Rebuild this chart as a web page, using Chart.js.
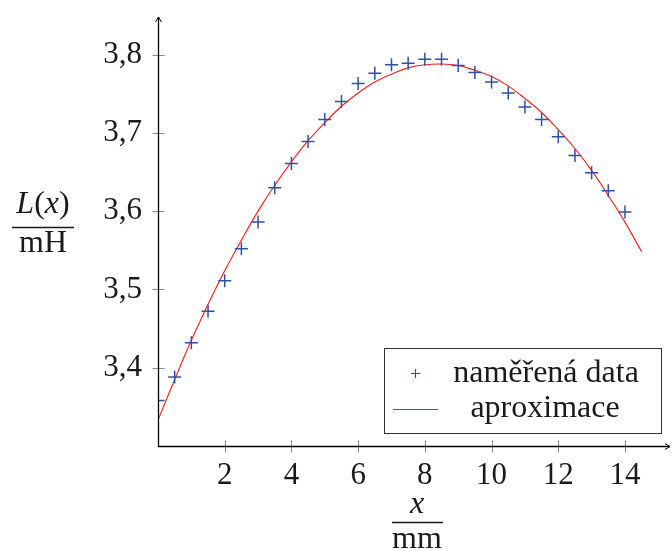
<!DOCTYPE html>
<html>
<head>
<meta charset="utf-8">
<script src="https://cdn.jsdelivr.net/npm/chart.js@4"></script>
<style>
  html, body { margin: 0; padding: 0; background: #fff; }
  #wrap { position: relative; width: 672px; height: 551px; }
</style>
</head>
<body>
<div id="wrap"><canvas id="chart" width="672" height="551"></canvas></div>
<script>
// naměřená data (x v mm, L v mH)
const xMeasured = [0, 0.5, 1, 1.5, 2, 2.5, 3, 3.5, 4, 4.5, 5, 5.5, 6, 6.5, 7, 7.5,
                   8, 8.5, 9, 9.5, 10, 10.5, 11, 11.5, 12, 12.5, 13, 13.5, 14];
const lMeasured = [3.358, 3.388, 3.432, 3.472, 3.511, 3.552, 3.586, 3.630, 3.661, 3.689,
                   3.717, 3.740, 3.763, 3.776, 3.787, 3.789, 3.794, 3.794, 3.786, 3.777,
                   3.765, 3.751, 3.733, 3.717, 3.695, 3.671, 3.649, 3.626, 3.599];

// aproximace
const xFit = [0, 0.5, 1, 1.5, 2, 2.5, 3, 3.5, 4, 4.5, 5, 5.5, 6, 6.5, 7, 7.5,
              8, 8.5, 9, 9.5, 10, 10.5, 11, 11.5, 12, 12.5, 13, 13.5, 14, 14.5];
const lFit = [3.333, 3.385, 3.435, 3.481, 3.524, 3.563, 3.600, 3.633, 3.663, 3.690,
              3.713, 3.734, 3.751, 3.765, 3.775, 3.783, 3.787, 3.788, 3.786, 3.780,
              3.772, 3.760, 3.744, 3.726, 3.704, 3.680, 3.652, 3.620, 3.586, 3.548];

// popisky os
const xTicks = [2, 4, 6, 8, 10, 12, 14];
const yTicks = [3.4, 3.5, 3.6, 3.7, 3.8];
const legendLabels = ['naměřená data', 'aproximace'];

const SERIF = '"Liberation Serif", "DejaVu Serif", serif';
const BLUE = '#2f4fa8';
const RED = '#ff1a1a';

// kreslí text složený z kurzívy a normálního písma, vycentrovaný
function drawRuns(ctx, runs, cx, baseline, size) {
    let total = 0;
    runs.forEach(r => {
        ctx.font = (r.it ? 'italic ' : '') + size + 'px ' + SERIF;
        r.w = ctx.measureText(r.t).width;
        total += r.w;
    });
    let xx = cx - total / 2;
    ctx.textAlign = 'left';
    ctx.textBaseline = 'alphabetic';
    runs.forEach(r => {
        ctx.font = (r.it ? 'italic ' : '') + size + 'px ' + SERIF;
        ctx.fillText(r.t, xx, baseline);
        xx += r.w;
    });
}

// osy ve stylu pgfplots + popisky + legenda
const pgfAxes = {
    id: 'pgfAxes',
    afterDraw(chart) {
        const { ctx, chartArea: a, scales: { x, y } } = chart;
        const ax = Math.round(a.left) + 0.5;
        const ay = Math.round(a.bottom) + 0.5;
        const xEnd = chart.width - 2;
        ctx.save();

        // značky na osách
        ctx.strokeStyle = '#8a8a8a';
        ctx.lineWidth = 1;
        xTicks.forEach(v => {
            const px = Math.round(x.getPixelForValue(v)) + 0.5;
            ctx.beginPath();
            ctx.moveTo(px, ay - 6);
            ctx.lineTo(px, ay + 6);
            ctx.stroke();
        });
        yTicks.forEach(v => {
            const py = Math.round(y.getPixelForValue(v)) + 0.5;
            ctx.beginPath();
            ctx.moveTo(ax - 6, py);
            ctx.lineTo(ax + 6, py);
            ctx.stroke();
        });

        // osy
        ctx.strokeStyle = '#000';
        ctx.lineWidth = 1.3;
        ctx.beginPath();
        ctx.moveTo(ax, a.top);
        ctx.lineTo(ax, ay);
        ctx.lineTo(xEnd, ay);
        ctx.stroke();
        // šipky
        ctx.lineWidth = 1;
        ctx.beginPath();
        ctx.moveTo(ax - 3, a.top + 5);
        ctx.lineTo(ax, a.top);
        ctx.lineTo(ax + 3, a.top + 5);
        ctx.moveTo(xEnd - 5, ay - 3);
        ctx.lineTo(xEnd, ay);
        ctx.lineTo(xEnd - 5, ay + 3);
        ctx.stroke();

        // popisky os (zlomky)
        ctx.fillStyle = '#1a1a1a';
        drawRuns(ctx, [{ t: 'L', it: true }, { t: '(' }, { t: 'x', it: true }, { t: ')' }], 43, 213, 32);
        drawRuns(ctx, [{ t: 'mH' }], 43, 252, 32);
        drawRuns(ctx, [{ t: 'x', it: true }], 417, 513, 32);
        drawRuns(ctx, [{ t: 'mm' }], 417, 548, 32);
        ctx.strokeStyle = '#1a1a1a';
        ctx.lineWidth = 1.6;
        ctx.beginPath();
        ctx.moveTo(12, 227.5);
        ctx.lineTo(74, 227.5);
        ctx.moveTo(392, 522.5);
        ctx.lineTo(443, 522.5);
        ctx.stroke();

        // legenda
        const lx = 384.5, ly = 348.5, lw = 277, lh = 85;
        ctx.fillStyle = '#fff';
        ctx.fillRect(lx, ly, lw, lh);
        ctx.strokeStyle = '#333';
        ctx.lineWidth = 1;
        ctx.strokeRect(lx, ly, lw, lh);

        ctx.strokeStyle = BLUE;
        ctx.lineWidth = 1.2;
        ctx.beginPath();
        ctx.moveTo(411, 373.5);
        ctx.lineTo(420, 373.5);
        ctx.moveTo(415.5, 369);
        ctx.lineTo(415.5, 378);
        ctx.stroke();

        ctx.strokeStyle = RED;
        ctx.lineWidth = 1.1;
        ctx.beginPath();
        ctx.moveTo(393, 409.5);
        ctx.lineTo(438, 409.5);
        ctx.stroke();

        ctx.fillStyle = '#1a1a1a';
        drawRuns(ctx, [{ t: legendLabels[0] }], 546, 382, 32);
        drawRuns(ctx, [{ t: legendLabels[1] }], 545, 417, 32);

        ctx.restore();
    }
};

const ctx = document.getElementById('chart').getContext('2d');
new Chart(ctx, {
    type: 'scatter',
    data: {
        datasets: [
            {
                label: legendLabels[0],
                data: xMeasured.map((v, i) => ({ x: v, y: lMeasured[i] })),
                pointStyle: 'cross',
                pointRadius: 6.5,
                pointBorderWidth: 1.5,
                borderColor: BLUE,
                backgroundColor: BLUE,
                order: 1
            },
            {
                label: legendLabels[1],
                data: xFit.map((v, i) => ({ x: v, y: lFit[i] })),
                showLine: true,
                pointRadius: 0,
                borderColor: RED,
                borderWidth: 1.1,
                tension: 0.4,
                fill: false,
                order: 2
            }
        ]
    },
    options: {
        responsive: false,
        animation: false,
        layout: { padding: { top: 17, right: 2, left: 0, bottom: 0 } },
        plugins: {
            legend: { display: false },
            tooltip: { enabled: false }
        },
        scales: {
            x: {
                type: 'linear',
                min: 0,
                max: 15.17,
                grid: { display: false },
                border: { display: false },
                afterBuildTicks: s => { s.ticks = xTicks.map(v => ({ value: v })); },
                afterFit: s => { s.height = 105; s.paddingLeft = 0; s.paddingRight = 0; },
                ticks: {
                    padding: 3,
                    color: '#1a1a1a',
                    maxRotation: 0,
                    font: { family: SERIF, size: 31, lineHeight: 1.2 },
                    callback: v => String(v)
                }
            },
            y: {
                type: 'linear',
                min: 3.30,
                max: 3.848,
                grid: { display: false },
                border: { display: false },
                afterBuildTicks: s => { s.ticks = yTicks.map(v => ({ value: v })); },
                afterFit: s => { s.width = 158; s.paddingTop = 0; s.paddingBottom = 0; },
                ticks: {
                    padding: 8,
                    color: '#1a1a1a',
                    font: { family: SERIF, size: 31 },
                    callback: v => v.toFixed(1).replace('.', ',')
                }
            }
        }
    },
    plugins: [pgfAxes]
});
</script>
</body>
</html>
